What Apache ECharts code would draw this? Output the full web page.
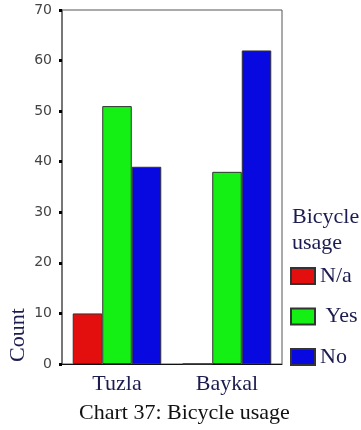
<!DOCTYPE html>
<html><head><meta charset="utf-8">
<script src="https://cdn.jsdelivr.net/npm/echarts@6/dist/echarts.min.js"></script>
<style>html,body{margin:0;padding:0;background:#fff}#c{width:361px;height:430px}</style>
</head><body><div id="c"></div>
<script>
var categories = ["Tuzla", "Baykal"];
var seriesNames = ["N/a", "Yes", "No"];
var naValues = [10, 0];
var yesValues = [51, 38];
var noValues = [39, 62];
var colors = ["#e30f0f", "#14f014", "#0808e0"];
var yTicks = [0, 10, 20, 30, 40, 50, 60, 70];

var serif = "'Liberation Serif', 'Times New Roman', serif";
var chart = echarts.init(document.getElementById('c'));
var allValues = [naValues, yesValues, noValues];
chart.setOption({
  animation: false,
  backgroundColor: '#fff',
  grid: {left: 62, top: 10, width: 220, height: 354, show: true, borderColor: '#555', borderWidth: 1, backgroundColor: '#fff'},
  title: {text: 'Chart 37: Bicycle usage', left: 79, top: 402, padding: 0,
    textStyle: {fontFamily: serif, fontSize: 22, fontWeight: 'normal', color: '#111', lineHeight: 22}},
  legend: {
    orient: 'vertical', left: 290, top: 265, padding: 0, itemWidth: 24, itemHeight: 16, itemGap: 18.5,
    icon: 'rect',
    data: seriesNames,
    formatter: function (n) { return n === 'Yes' ? ' ' + n : n; },
    textStyle: {fontFamily: serif, fontSize: 22, color: '#1c1c50', lineHeight: 22}
  },
  graphic: [
    {type: 'text', left: 292, top: 204, style: {text: 'Bicycle\nusage', font: "22px 'Liberation Serif', serif", fill: '#1c1c50', lineHeight: 26}},
    {type: 'text', x: 18, y: 335, rotation: Math.PI / 2,
      style: {text: 'Count', font: "22px 'Liberation Serif', serif", fill: '#1c1c50', align: 'center', verticalAlign: 'middle'}}
  ],
  xAxis: {
    type: 'category', data: categories,
    axisLine: {lineStyle: {color: '#111', width: 1}},
    axisTick: {alignWithLabel: true, length: 3, lineStyle: {color: '#000', width: 3}},
    axisLabel: {margin: 9, fontFamily: serif, fontSize: 22, color: '#1c1c50'}
  },
  yAxis: {
    type: 'value', min: yTicks[0], max: yTicks[yTicks.length - 1], interval: 10,
    splitLine: {show: false},
    axisLine: {show: true, lineStyle: {color: '#666', width: 1.5}},
    axisTick: {show: true, length: 3, lineStyle: {color: '#000', width: 3}},
    axisLabel: {margin: 10, fontFamily: "'DejaVu Sans', Verdana, sans-serif", fontSize: 14, color: '#444'}
  },
  series: seriesNames.map(function (n, i) {
    return {
      name: n, type: 'bar', data: allValues[i], barGap: '0%', barCategoryGap: '19.5%',
      itemStyle: {color: colors[i], borderColor: '#333', borderWidth: 1}
    };
  })
});
</script></body></html>
